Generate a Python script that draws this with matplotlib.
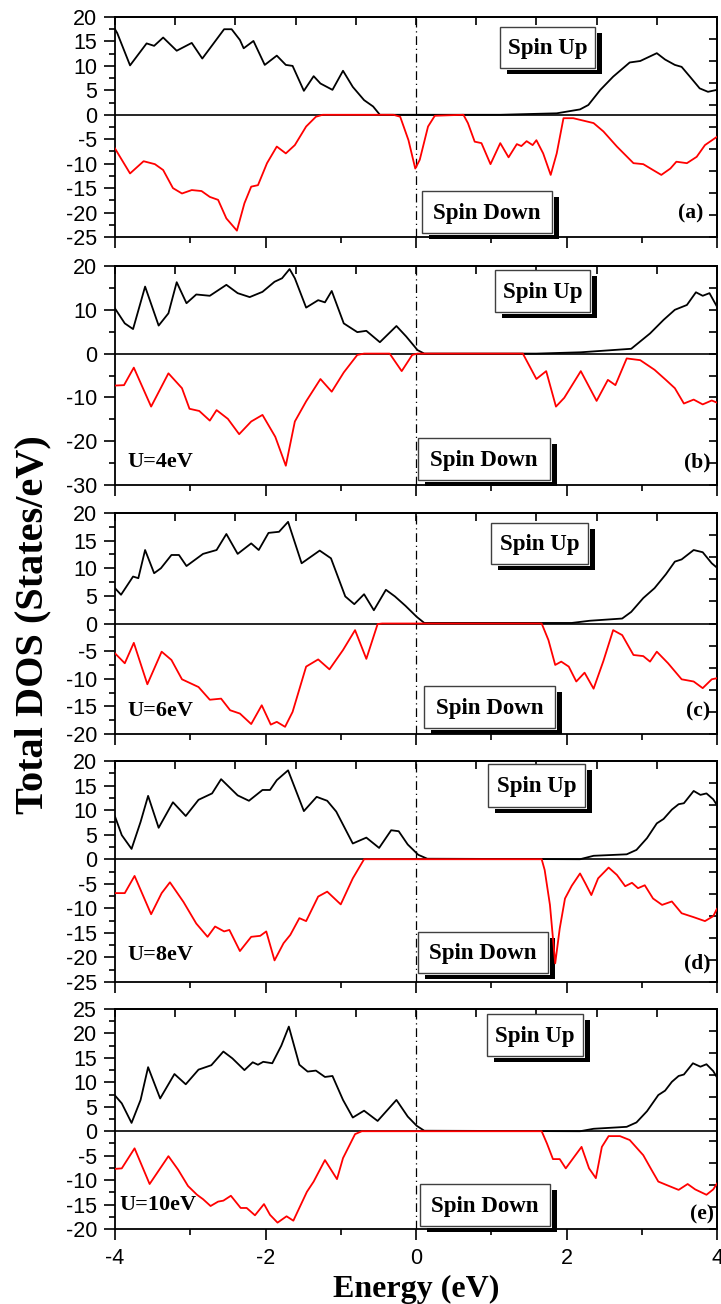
import matplotlib.pyplot as plt
import numpy as np
from matplotlib.patches import Rectangle
from matplotlib.ticker import NullFormatter

# (energy eV, DOS) points, one list per curve
up_a = [(-4.00, 17.5), (-3.97, 16.7), (-3.80, 10.1), (-3.58, 14.6), (-3.48, 14.1), (-3.36, 15.8),
        (-3.18, 13.1), (-2.98, 14.7), (-2.84, 11.5), (-2.69, 14.6), (-2.55, 17.5), (-2.45, 17.5),
        (-2.34, 15.3), (-2.29, 13.6), (-2.16, 15.1), (-2.01, 10.2), (-1.85, 12.1), (-1.73, 10.2),
        (-1.64, 10.0), (-1.49, 4.9), (-1.36, 7.9), (-1.27, 6.4), (-1.11, 5.1), (-0.97, 9.0),
        (-0.84, 5.7), (-0.69, 3.0), (-0.57, 1.7), (-0.48, 0.0), (1.12, 0.0), (1.87, 0.3),
        (2.18, 1.1), (2.29, 2.0), (2.45, 5.1), (2.62, 7.8), (2.84, 10.7), (2.98, 11.0),
        (3.20, 12.6), (3.31, 11.3), (3.44, 10.2), (3.53, 9.8), (3.64, 7.8), (3.77, 5.4),
        (3.88, 4.7), (4.00, 5.1)]
dn_a = [(-4.00, -6.9), (-3.91, -9.2), (-3.80, -12.0), (-3.62, -9.5), (-3.47, -10.1), (-3.36, -11.3),
        (-3.23, -15.0), (-3.11, -16.1), (-2.98, -15.4), (-2.85, -15.6), (-2.74, -16.8), (-2.63, -17.4),
        (-2.52, -21.2), (-2.38, -23.7), (-2.28, -18.1), (-2.19, -14.7), (-2.10, -14.4), (-1.98, -9.9),
        (-1.85, -6.5), (-1.73, -7.9), (-1.61, -6.2), (-1.46, -2.4), (-1.33, -0.4), (-1.24, 0.0),
        (-0.30, 0.0), (-0.21, -0.4), (-0.10, -5.2), (-0.01, -11.0), (0.05, -9.2), (0.16, -2.4),
        (0.25, -0.2), (0.63, 0.0), (0.69, -1.7), (0.78, -5.5), (0.87, -5.8), (0.99, -10.1),
        (1.12, -5.8), (1.23, -8.7), (1.34, -6.0), (1.40, -6.4), (1.47, -5.4), (1.55, -6.2),
        (1.60, -5.2), (1.69, -7.9), (1.79, -12.3), (1.87, -7.9), (1.96, -0.7), (2.09, -0.7),
        (2.36, -1.7), (2.49, -3.4), (2.67, -6.5), (2.89, -9.9), (3.02, -10.1), (3.15, -11.3),
        (3.26, -12.3), (3.38, -11.0), (3.46, -9.6), (3.60, -9.9), (3.73, -8.6), (3.84, -6.2),
        (4.00, -4.5)]

up_b = [(-4.00, 10.3), (-3.87, 6.9), (-3.76, 5.6), (-3.60, 15.3), (-3.42, 6.4), (-3.29, 9.2),
        (-3.18, 16.3), (-3.05, 11.5), (-2.92, 13.5), (-2.74, 13.2), (-2.52, 15.7), (-2.37, 13.8),
        (-2.21, 12.9), (-2.04, 14.1), (-1.88, 16.4), (-1.78, 17.2), (-1.68, 19.3), (-1.61, 17.2),
        (-1.46, 10.5), (-1.30, 12.2), (-1.21, 11.7), (-1.12, 14.3), (-0.96, 6.9), (-0.78, 4.9),
        (-0.66, 5.2), (-0.48, 2.6), (-0.26, 6.3), (-0.13, 3.9), (0.02, 0.8), (0.11, 0.0),
        (1.60, 0.0), (2.19, 0.3), (2.86, 1.1), (3.11, 4.6), (3.29, 7.7), (3.44, 10.0),
        (3.60, 11.1), (3.72, 14.0), (3.81, 13.2), (3.90, 13.8), (4.00, 10.7)]
dn_b = [(-4.00, -7.3), (-3.88, -7.2), (-3.75, -3.2), (-3.52, -12.1), (-3.29, -4.5), (-3.11, -7.9),
        (-3.01, -12.6), (-2.88, -13.1), (-2.74, -15.3), (-2.65, -12.9), (-2.50, -14.9), (-2.35, -18.4),
        (-2.19, -15.5), (-2.04, -14.0), (-1.87, -19.0), (-1.73, -25.6), (-1.61, -15.5), (-1.46, -10.9),
        (-1.27, -5.8), (-1.12, -8.7), (-0.96, -4.3), (-0.78, -0.3), (-0.69, 0.0), (-0.35, 0.0),
        (-0.19, -4.0), (-0.05, -0.3), (0.02, 0.0), (1.42, 0.0), (1.60, -5.8), (1.73, -4.0),
        (1.86, -12.1), (1.97, -10.1), (2.19, -4.0), (2.40, -10.8), (2.55, -6.0), (2.65, -7.2),
        (2.80, -1.1), (2.98, -1.5), (3.17, -3.7), (3.32, -6.0), (3.44, -7.9), (3.56, -11.4),
        (3.69, -10.5), (3.81, -11.6), (3.93, -10.7), (4.00, -11.2)]

up_c = [(-4.00, 6.4), (-3.92, 5.2), (-3.76, 8.5), (-3.69, 8.2), (-3.60, 13.3), (-3.48, 9.1),
        (-3.39, 10.0), (-3.25, 12.4), (-3.15, 12.4), (-3.05, 10.4), (-2.83, 12.6), (-2.65, 13.3),
        (-2.52, 16.2), (-2.37, 12.6), (-2.19, 14.5), (-2.09, 13.3), (-1.96, 16.4), (-1.82, 16.6),
        (-1.70, 18.4), (-1.52, 10.9), (-1.28, 13.2), (-1.13, 11.8), (-0.94, 4.9), (-0.82, 3.5),
        (-0.69, 5.3), (-0.56, 2.4), (-0.40, 6.1), (-0.28, 4.9), (-0.14, 3.2), (0.01, 1.2),
        (0.11, 0.1), (2.07, 0.1), (2.31, 0.5), (2.74, 0.9), (2.86, 2.1), (3.02, 4.6),
        (3.17, 6.4), (3.32, 8.9), (3.44, 11.2), (3.53, 11.6), (3.69, 13.3), (3.81, 12.9),
        (3.93, 10.9), (4.00, 10.1)]
dn_c = [(-4.00, -5.4), (-3.87, -7.2), (-3.75, -3.5), (-3.57, -11.0), (-3.38, -5.1), (-3.25, -6.6),
        (-3.11, -10.1), (-2.89, -11.5), (-2.74, -13.8), (-2.59, -13.6), (-2.47, -15.7), (-2.34, -16.3),
        (-2.19, -18.2), (-2.05, -14.8), (-1.93, -18.3), (-1.85, -17.8), (-1.74, -18.7), (-1.64, -16.0),
        (-1.46, -7.8), (-1.30, -6.5), (-1.15, -8.3), (-0.97, -4.8), (-0.81, -1.2), (-0.66, -6.4),
        (-0.51, -0.1), (-0.45, 0.0), (1.67, 0.0), (1.76, -3.0), (1.85, -7.5), (1.93, -6.9),
        (2.03, -7.8), (2.13, -10.5), (2.24, -8.9), (2.36, -11.8), (2.49, -6.8), (2.62, -1.2),
        (2.74, -2.1), (2.89, -5.7), (3.02, -5.9), (3.11, -6.9), (3.20, -5.1), (3.35, -7.2),
        (3.53, -10.1), (3.69, -10.5), (3.81, -11.7), (3.93, -10.1), (4.00, -9.9)]

up_d = [(-4.00, 8.7), (-3.91, 4.9), (-3.78, 2.1), (-3.66, 7.6), (-3.56, 12.9), (-3.42, 6.4),
        (-3.23, 11.6), (-3.06, 8.8), (-2.89, 12.1), (-2.71, 13.4), (-2.59, 16.3), (-2.37, 13.0),
        (-2.22, 11.9), (-2.04, 14.1), (-1.94, 14.1), (-1.85, 16.1), (-1.70, 18.1), (-1.49, 9.8),
        (-1.32, 12.7), (-1.18, 11.9), (-1.06, 9.7), (-0.84, 3.2), (-0.66, 4.4), (-0.49, 2.3),
        (-0.33, 5.9), (-0.23, 5.7), (-0.11, 3.0), (0.03, 0.9), (0.15, 0.1), (2.18, 0.0),
        (2.36, 0.7), (2.80, 1.0), (2.93, 1.9), (3.07, 4.3), (3.20, 7.3), (3.29, 8.2),
        (3.40, 10.1), (3.49, 11.2), (3.56, 11.4), (3.69, 13.9), (3.78, 13.1), (3.86, 13.4),
        (3.95, 12.2), (4.00, 11.0)]
dn_d = [(-4.00, -6.9), (-3.87, -6.9), (-3.74, -3.4), (-3.52, -11.2), (-3.38, -6.9), (-3.27, -4.7),
        (-3.09, -8.7), (-2.92, -13.1), (-2.77, -15.8), (-2.67, -13.7), (-2.55, -14.7), (-2.48, -14.4),
        (-2.34, -18.7), (-2.19, -15.8), (-2.07, -15.6), (-1.99, -14.7), (-1.88, -20.6), (-1.76, -17.1),
        (-1.67, -15.4), (-1.55, -12.0), (-1.46, -12.6), (-1.30, -7.6), (-1.18, -6.6), (-1.00, -9.2),
        (-0.84, -3.9), (-0.69, 0.0), (1.67, 0.0), (1.71, -2.2), (1.78, -9.3), (1.85, -21.2),
        (1.91, -14.1), (1.98, -8.0), (2.07, -5.4), (2.18, -2.9), (2.25, -4.9), (2.33, -7.3),
        (2.42, -3.9), (2.56, -1.7), (2.67, -3.2), (2.78, -5.5), (2.87, -4.8), (2.95, -5.9),
        (3.04, -5.3), (3.15, -8.0), (3.27, -9.3), (3.40, -8.6), (3.53, -11.0), (3.69, -11.8),
        (3.84, -12.6), (3.95, -11.6), (4.00, -10.1)]

up_e = [(-4.00, 7.3), (-3.91, 5.7), (-3.78, 1.7), (-3.66, 6.4), (-3.56, 13.1), (-3.40, 6.7),
        (-3.21, 11.7), (-3.06, 9.6), (-2.89, 12.6), (-2.72, 13.5), (-2.56, 16.3), (-2.44, 14.9),
        (-2.28, 12.5), (-2.17, 14.1), (-2.10, 13.6), (-2.03, 14.2), (-1.91, 13.9), (-1.79, 17.5),
        (-1.69, 21.4), (-1.55, 13.6), (-1.44, 12.2), (-1.33, 12.4), (-1.21, 11.1), (-1.11, 11.3),
        (-0.97, 6.4), (-0.84, 2.8), (-0.69, 4.2), (-0.51, 2.1), (-0.26, 6.4), (-0.11, 3.0),
        (0.01, 1.1), (0.11, 0.1), (2.18, 0.0), (2.36, 0.5), (2.80, 0.9), (2.93, 1.8),
        (3.07, 4.1), (3.22, 7.4), (3.31, 8.3), (3.40, 10.1), (3.49, 11.3), (3.56, 11.6),
        (3.68, 13.9), (3.78, 13.2), (3.86, 13.7), (3.95, 12.3), (4.00, 11.0)]
dn_e = [(-4.00, -7.7), (-3.91, -7.6), (-3.74, -3.5), (-3.54, -10.8), (-3.29, -5.1), (-3.16, -7.9),
        (-3.03, -11.2), (-2.91, -13.0), (-2.83, -13.9), (-2.73, -15.3), (-2.63, -14.4), (-2.56, -14.2),
        (-2.46, -13.2), (-2.33, -15.7), (-2.25, -15.7), (-2.14, -17.2), (-2.02, -14.9), (-1.94, -17.1),
        (-1.84, -18.7), (-1.72, -17.4), (-1.63, -18.3), (-1.45, -12.4), (-1.36, -10.3), (-1.21, -5.9),
        (-1.05, -9.8), (-0.97, -5.5), (-0.81, -0.6), (-0.72, 0.0), (1.67, 0.0), (1.74, -2.5),
        (1.82, -5.7), (1.91, -5.7), (1.99, -7.6), (2.09, -5.5), (2.20, -3.2), (2.30, -7.6),
        (2.39, -9.6), (2.47, -3.2), (2.56, -1.0), (2.71, -1.0), (2.84, -1.8), (3.02, -4.9),
        (3.13, -7.9), (3.22, -10.3), (3.33, -11.0), (3.49, -12.0), (3.61, -10.8), (3.71, -11.9),
        (3.86, -13.0), (3.95, -11.9), (4.00, -10.7)]

SPIN_UP = [up_a, up_b, up_c, up_d, up_e]
SPIN_DN = [dn_a, dn_b, dn_c, dn_d, dn_e]
Y_LIMS = [(-25, 20), (-30, 20), (-20, 20), (-25, 20), (-20, 25)]
Y_STEP = [5, 10, 5, 5, 5]
PANEL_TAGS = ['(a)', '(b)', '(c)', '(d)', '(e)']
U_LABELS = [None, 'U=4eV', 'U=6eV', 'U=8eV', 'U=10eV']
X_TICKS = [-4, -2, 0, 2, 4]

plt.rcParams['font.family'] = 'Liberation Sans'
plt.rcParams['font.size'] = 15.5
plt.rcParams['axes.unicode_minus'] = False
SERIF = dict(fontfamily='Liberation Serif', fontweight='bold')

W_PX, H_PX = 721, 1304
fig = plt.figure(figsize=(W_PX / 100, H_PX / 100), dpi=100)

# panel top/bottom edges in pixels
panel_px = [(17, 237), (266, 485), (513, 734), (761, 982), (1009, 1229)]
# box layout in axes fractions: spin up box, spin down box, tag pos, U label pos
up_box = [(0.640, 0.768, 0.797, 0.955), (0.631, 0.790, 0.789, 0.982), (0.625, 0.769, 0.786, 0.955),
          (0.620, 0.792, 0.781, 0.986), (0.618, 0.786, 0.777, 0.977)]
dn_box = [(0.510, 0.018, 0.726, 0.209), (0.503, 0.023, 0.723, 0.215), (0.513, 0.027, 0.731, 0.217),
          (0.503, 0.041, 0.719, 0.226), (0.507, 0.014, 0.723, 0.205)]
tag_pos = [(0.957, 0.109), (0.968, 0.105), (0.968, 0.104), (0.968, 0.086), (0.975, 0.064)]
u_pos = [None, (0.020, 0.105), (0.020, 0.104), (0.020, 0.122), (0.008, 0.109)]


def spin_box(ax, x0, y0, x1, y1, label):
    w, h = ax.bbox.width, ax.bbox.height
    sx, sy = 7 / w, 6 / h
    gx, gy = 2 / w, 2 / h
    kw = dict(transform=ax.transAxes, clip_on=False)
    ax.add_patch(Rectangle((x0 + sx, y0 - sy), x1 - x0, y1 - y0, fc='black', ec='none', zorder=5, **kw))
    ax.add_patch(Rectangle((x0, y0 - gy), x1 - x0 + gx, y1 - y0 + gy, fc='white', ec='none', zorder=6, **kw))
    ax.add_patch(Rectangle((x0, y0), x1 - x0, y1 - y0, fc='white', ec='0.25', lw=1.0, zorder=7, **kw))
    ax.text((x0 + x1) / 2, (y0 + y1) / 2 - 0.005, label, transform=ax.transAxes, ha='center', va='center',
            fontsize=16.5, zorder=8, **SERIF)


for i in range(5):
    top, bot = panel_px[i]
    ax = fig.add_axes([115 / W_PX, 1 - bot / H_PX, 602 / W_PX, (bot - top) / H_PX])
    ymin, ymax = Y_LIMS[i]

    up = np.array(SPIN_UP[i])
    dn = np.array(SPIN_DN[i])
    ax.plot(up[:, 0], up[:, 1], color='black', lw=1.3, zorder=9, solid_joinstyle='round')
    ax.plot(dn[:, 0], dn[:, 1], color='red', lw=1.3, zorder=9, solid_joinstyle='round')
    ax.axhline(0, color='black', lw=1.2, zorder=4)
    ax.axvline(0, color='black', lw=0.9, ls=(0, (7, 3, 1, 3)), zorder=4)

    ax.set_xlim(-4, 4)
    ax.set_ylim(ymin, ymax)
    ax.set_xticks(X_TICKS)
    ax.set_xticks(np.arange(-3, 4, 2), minor=True)
    ax.set_yticks(np.arange(ymin, ymax + 1, Y_STEP[i]))
    ax.set_yticks(np.arange(ymin + Y_STEP[i] / 2, ymax, Y_STEP[i]), minor=True)
    ax.tick_params(which='major', direction='out', length=8, width=1.2, pad=5,
                   top=False, right=False, labelbottom=(i == 4))
    ax.tick_params(which='minor', direction='out', length=4, width=1.2, top=False, right=False)
    ax.tick_params(axis='x', pad=6)
    for sp in ax.spines.values():
        sp.set_linewidth(1.3)

    # top and right axes carry their own evenly spaced inward ticks
    sec_x = ax.secondary_xaxis('top')
    sec_x.set_xticks(np.linspace(-4, 4, 11))
    sec_x.xaxis.set_major_formatter(NullFormatter())
    sec_x.tick_params(direction='in', length=6, width=1.2)
    sec_x.spines['top'].set_linewidth(1.3)
    sec_y = ax.secondary_yaxis('right')
    sec_y.set_yticks(np.linspace(ymin, ymax, 11))
    sec_y.yaxis.set_major_formatter(NullFormatter())
    sec_y.tick_params(direction='in', length=6, width=1.2)
    sec_y.spines['right'].set_linewidth(1.3)

    spin_box(ax, *up_box[i], 'Spin Up')
    spin_box(ax, *dn_box[i], 'Spin Down')
    tx, ty = tag_pos[i]
    ax.text(tx, ty, PANEL_TAGS[i], transform=ax.transAxes, ha='center', va='center',
            fontsize=15.5, zorder=8, **SERIF)
    if U_LABELS[i]:
        ux, uy = u_pos[i]
        ax.text(ux, uy, U_LABELS[i], transform=ax.transAxes, ha='left', va='center',
                fontsize=16, zorder=8, **SERIF)

fig.text(416 / W_PX, 1 - 1297 / H_PX, 'Energy (eV)', ha='center', va='baseline', fontsize=23, **SERIF)
fig.text(33 / W_PX, 1 - 625 / H_PX, 'Total DOS (States/eV)', rotation=90, ha='center', va='center',
         fontsize=29, **SERIF)

fig.savefig('out.png', dpi=100)
